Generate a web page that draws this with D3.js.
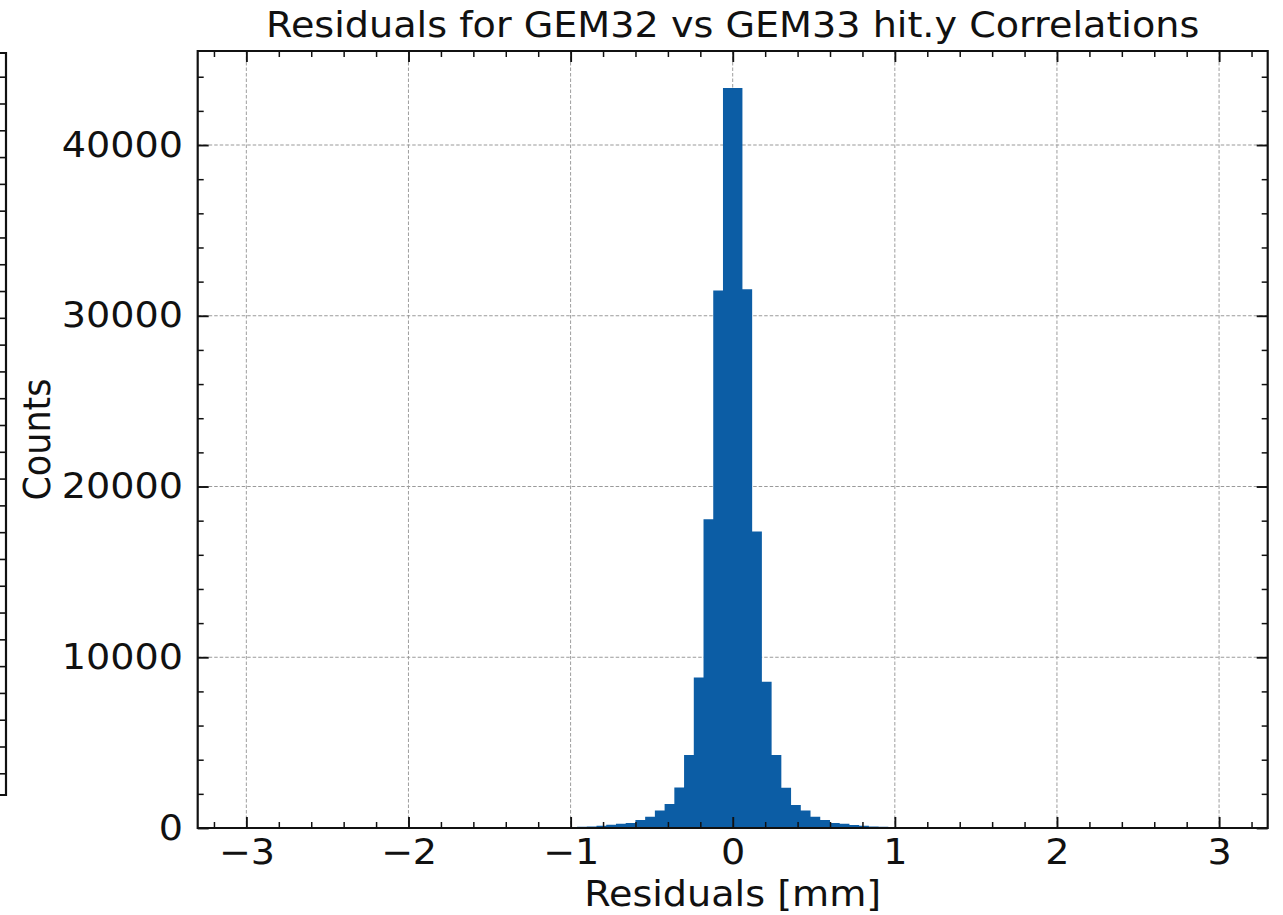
<!DOCTYPE html>
<html>
<head>
<meta charset="utf-8">
<script src="https://cdn.jsdelivr.net/npm/d3@7"></script>
<style>
  html, body { margin: 0; padding: 0; background: #fff; }
  svg { display: block; }
  text { font-family: "DejaVu Sans", sans-serif; fill: #111; }
</style>
</head>
<body>
<script>
// histogram: 100 bins of 0.06 mm starting at -3 mm
const binStart = -3;
const binWidth = 0.06;
const counts = [
  0, 0, 0, 0, 0, 0, 0, 0, 0, 0,
  0, 0, 0, 0, 0, 0, 0, 0, 0, 0,
  0, 20, 25, 25, 30, 30, 35, 40, 40, 45,
  50, 55, 60, 65, 75, 90, 130, 190, 250, 300,
  470, 660, 1030, 1400, 2370, 4280, 8810, 18090, 31480, 43340,
  43340, 31560, 17360, 8570, 4280, 2360, 1350, 1020, 660, 470,
  300, 250, 180, 130, 90, 75, 65, 60, 55, 50,
  45, 40, 40, 35, 35, 30, 30, 45, 45, 25,
  20, 0, 0, 0, 0, 0, 0, 0, 0, 0,
  0, 0, 0, 0, 0, 0, 0, 0, 0, 0
];
const majorX = [-3, -2, -1, 0, 1, 2, 3];
const minorX = [-3.2, -2.8, -2.6, -2.4, -2.2, -1.8, -1.6, -1.4, -1.2, -0.8, -0.6, -0.4, -0.2,
                0.2, 0.4, 0.6, 0.8, 1.2, 1.4, 1.6, 1.8, 2.2, 2.4, 2.6, 2.8, 3.2];
const majorY = [0, 10000, 20000, 30000, 40000];
const minorY = [2000, 4000, 6000, 8000, 12000, 14000, 16000, 18000, 22000, 24000, 26000, 28000,
                32000, 34000, 36000, 38000, 42000, 44000];
const neighbourTicks = d3.range(0, 27); // right spine of the panel cut off on the left

const titleText = "Residuals for GEM32 vs GEM33 hit.y Correlations";
const xLabel = "Residuals [mm]";
const yLabel = "Counts";

const W = 1283, H = 915;
const SX = 1.09;            // the picture is stretched a little horizontally
const VW = W / SX;
const px = v => v / SX;     // screen x -> viewBox x

const margin = {left: px(197.7), right: px(1267.7), top: 51, bottom: 828};
const blue = "#0C5DA5";

const svg = d3.select("body").append("svg")
  .attr("width", W).attr("height", H)
  .attr("viewBox", `0 0 ${VW} ${H}`)
  .attr("preserveAspectRatio", "none");

// scales with matplotlib-like 5% margins
const lo = binStart, hi = binStart + counts.length * binWidth;
const padX = 0.05 * (hi - lo);
const x = d3.scaleLinear().domain([lo - padX, hi + padX]).range([margin.left, margin.right]);
const y = d3.scaleLinear().domain([0, d3.max(counts) * 1.05]).range([margin.bottom, margin.top]);

// grid
const grid = svg.append("g").attr("class", "grid").attr("stroke", "#9a9a9a");
grid.selectAll("line.gx").data(majorX).join("line")
  .attr("class", "gx")
  .attr("x1", d => x(d)).attr("x2", d => x(d))
  .attr("y1", margin.top).attr("y2", margin.bottom)
  .attr("stroke-width", 1 / SX)
  .attr("stroke-dasharray", "3.5,2");
grid.selectAll("line.gy").data(majorY.filter(d => d > 0)).join("line")
  .attr("class", "gy")
  .attr("x1", margin.left).attr("x2", margin.right)
  .attr("y1", d => y(d)).attr("y2", d => y(d))
  .attr("stroke-width", 1)
  .attr("stroke-dasharray", `${3.5 / SX},${2 / SX}`);

// bars, drawn as one stepped filled shape (no seams between bins)
const steps = counts.map((c, i) => ({x0: binStart + i * binWidth, c: c}));
steps.push({x0: hi, c: 0});
const area = d3.area()
  .curve(d3.curveStepAfter)
  .x(d => x(d.x0))
  .y0(y(0))
  .y1(d => y(d.c));
svg.append("path")
  .datum(steps)
  .attr("class", "bars")
  .attr("d", area)
  .attr("fill", blue);

// ticks, all pointing inward
const majLen = 11, minLen = 6;
function styleTicks(g, w) {
  g.select(".domain").remove();
  g.selectAll(".tick line").attr("stroke", "#111").attr("stroke-width", w);
  g.selectAll(".tick text").style("font-size", "35px").attr("fill", "#111");
}
svg.append("g").attr("transform", `translate(0,${margin.bottom})`)
  .call(d3.axisBottom(x).tickValues(majorX).tickSizeInner(-majLen).tickSizeOuter(0)
    .tickPadding(11.5).tickFormat(d3.format("d")))
  .call(g => styleTicks(g, 1.9 / SX));
svg.append("g").attr("transform", `translate(0,${margin.bottom})`)
  .call(d3.axisBottom(x).tickValues(minorX).tickSizeInner(-minLen).tickSizeOuter(0).tickFormat(""))
  .call(g => styleTicks(g, 1.5 / SX));
svg.append("g").attr("transform", `translate(0,${margin.top})`)
  .call(d3.axisTop(x).tickValues(majorX).tickSizeInner(-majLen).tickSizeOuter(0).tickFormat(""))
  .call(g => styleTicks(g, 1.9 / SX));
svg.append("g").attr("transform", `translate(0,${margin.top})`)
  .call(d3.axisTop(x).tickValues(minorX).tickSizeInner(-minLen).tickSizeOuter(0).tickFormat(""))
  .call(g => styleTicks(g, 1.5 / SX));

svg.append("g").attr("transform", `translate(${margin.left},0)`)
  .call(d3.axisLeft(y).tickValues(majorY).tickSizeInner(-px(majLen)).tickSizeOuter(0)
    .tickPadding(px(14.7)).tickFormat(d3.format("d")))
  .call(g => styleTicks(g, 1.9));
svg.append("g").attr("transform", `translate(${margin.left},0)`)
  .call(d3.axisLeft(y).tickValues(minorY).tickSizeInner(-px(minLen)).tickSizeOuter(0).tickFormat(""))
  .call(g => styleTicks(g, 1.5));
svg.append("g").attr("transform", `translate(${margin.right},0)`)
  .call(d3.axisRight(y).tickValues(majorY).tickSizeInner(-px(majLen)).tickSizeOuter(0).tickFormat(""))
  .call(g => styleTicks(g, 1.9));
svg.append("g").attr("transform", `translate(${margin.right},0)`)
  .call(d3.axisRight(y).tickValues(minorY).tickSizeInner(-px(minLen)).tickSizeOuter(0).tickFormat(""))
  .call(g => styleTicks(g, 1.5));

// frame
svg.append("rect")
  .attr("x", margin.left).attr("y", margin.top)
  .attr("width", margin.right - margin.left).attr("height", margin.bottom - margin.top)
  .attr("fill", "none").attr("stroke", "#111").attr("stroke-width", 2);

// labels
svg.append("text")
  .attr("x", (margin.left + margin.right) / 2).attr("y", 37)
  .attr("text-anchor", "middle").style("font-size", "35px")
  .text(titleText);
svg.append("text")
  .attr("x", (margin.left + margin.right) / 2).attr("y", 906)
  .attr("text-anchor", "middle").style("font-size", "35px")
  .text(xLabel);
svg.append("text")
  .attr("transform", `translate(${px(50)},${(margin.top + margin.bottom) / 2}) rotate(-90)`)
  .attr("text-anchor", "middle").style("font-size", "35px")
  .text(yLabel);

// neighbouring panel (only its right spine is visible)
const nbY = d3.scaleLinear().domain([0, 26]).range([773.3, 76.7]);
svg.append("path")
  .attr("d", `M0,53H${px(6)}V795H0`)
  .attr("fill", "none").attr("stroke", "#111").attr("stroke-width", 2);
svg.append("g").attr("transform", `translate(${px(6)},0)`)
  .call(d3.axisLeft(nbY).tickValues(neighbourTicks).tickSizeInner(px(6)).tickSizeOuter(0).tickFormat(""))
  .call(g => styleTicks(g, 1.6));
</script>
</body>
</html>
